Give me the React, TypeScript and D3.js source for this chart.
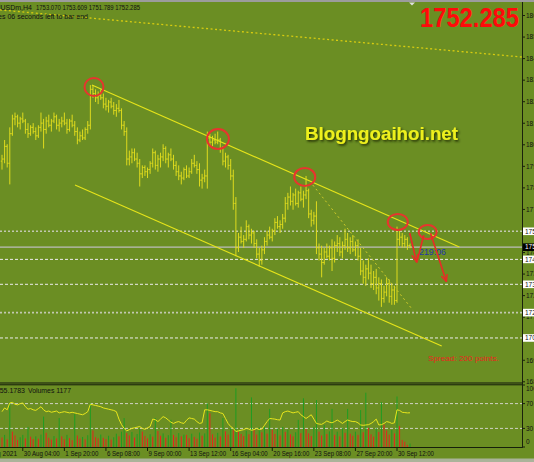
import React from 'react';
import * as d3 from 'd3';

const W = 534;
const H = 462;

// Right price axis ticks
const priceTicks = [1861.95, 1851.75, 1841.55, 1831.35, 1821.15, 1810.95, 1800.75, 1790.55, 1780.35, 1770.15, 1759.95, 1749.75, 1739.55, 1729.35, 1719.15, 1708.95, 1698.75, 1688.55];

// H4 bars: [open, high, low, close]
const bars: number[][] = [
  [1793,1796,1789,1794],[1794,1803,1792,1800],[1800,1801,1790,1792],[1792,1809,1782,1806],
  [1806,1815,1805,1813],[1813,1816,1810,1814],[1814,1815,1809,1811],[1811,1814,1808,1813],
  [1813,1816,1811,1812],[1812,1813,1806,1808],[1808,1811,1804,1806],[1806,1810,1805,1809],
  [1809,1811,1806,1807],[1807,1809,1803,1805],[1805,1810,1804,1809],[1809,1816,1807,1811],
  [1811,1813,1799,1808],[1808,1814,1806,1812],[1812,1815,1809,1810],[1810,1813,1807,1812],
  [1812,1816,1811,1814],[1814,1815,1808,1810],[1810,1813,1807,1811],[1811,1814,1809,1812],
  [1812,1816,1810,1811],[1811,1813,1806,1808],[1808,1813,1807,1812],[1812,1815,1809,1810],
  [1810,1812,1805,1807],[1807,1809,1801,1803],[1803,1807,1802,1805],[1805,1808,1803,1804],
  [1804,1809,1803,1808],[1808,1812,1806,1810],[1810,1829,1808,1827],[1827,1829,1823,1825],
  [1825,1827,1821,1823],[1823,1826,1820,1824],[1824,1827,1822,1823],[1823,1825,1818,1820],
  [1820,1823,1817,1819],[1819,1822,1816,1821],[1821,1823,1818,1819],[1819,1821,1815,1817],
  [1817,1820,1814,1818],[1818,1822,1816,1817],[1817,1818,1808,1810],[1810,1812,1805,1807],
  [1807,1809,1791,1794],[1794,1798,1791,1795],[1795,1799,1792,1797],[1797,1799,1793,1794],
  [1794,1797,1790,1792],[1792,1794,1781,1787],[1787,1791,1785,1790],[1790,1791,1786,1788],
  [1788,1790,1785,1789],[1789,1793,1787,1792],[1792,1799,1790,1797],[1797,1798,1789,1791],
  [1791,1796,1788,1794],[1794,1797,1790,1795],[1795,1801,1793,1799],[1799,1800,1792,1794],
  [1794,1797,1790,1796],[1796,1799,1793,1794],[1794,1796,1789,1791],[1791,1793,1786,1788],
  [1788,1791,1784,1786],[1786,1788,1782,1785],[1785,1790,1784,1789],[1789,1791,1785,1786],
  [1786,1790,1785,1788],[1788,1794,1787,1792],[1792,1796,1790,1791],[1791,1793,1787,1789],
  [1789,1792,1781,1784],[1784,1787,1780,1785],[1785,1789,1783,1786],[1786,1807,1780,1804],
  [1804,1806,1800,1802],[1802,1805,1800,1803],[1803,1806,1801,1802],[1802,1807,1801,1803],
  [1803,1804,1797,1799],[1799,1800,1791,1793],[1793,1797,1790,1795],[1795,1796,1789,1791],
  [1791,1794,1784,1786],[1786,1789,1770,1773],[1773,1776,1748,1752],[1752,1759,1750,1757],
  [1757,1762,1754,1755],[1755,1758,1752,1756],[1756,1765,1755,1762],[1762,1763,1756,1758],
  [1758,1761,1754,1759],[1759,1760,1752,1754],[1754,1756,1747,1749],[1749,1752,1743,1746],
  [1746,1753,1744,1751],[1751,1757,1749,1755],[1755,1760,1753,1758],[1758,1762,1756,1757],
  [1757,1761,1755,1760],[1760,1766,1758,1764],[1764,1767,1761,1762],[1762,1765,1759,1763],
  [1763,1768,1761,1766],[1766,1776,1764,1773],[1773,1778,1770,1776],[1776,1781,1772,1774],
  [1774,1778,1770,1777],[1777,1780,1772,1773],[1773,1779,1771,1778],[1778,1781,1774,1775],
  [1775,1779,1771,1777],[1777,1786,1775,1779],[1779,1780,1766,1768],[1768,1770,1762,1765],
  [1765,1769,1763,1767],[1767,1774,1749,1752],[1752,1754,1746,1749],[1749,1753,1738,1745],
  [1745,1752,1744,1750],[1750,1754,1747,1748],[1748,1753,1746,1752],[1752,1756,1741,1747],
  [1747,1755,1745,1753],[1753,1758,1750,1754],[1754,1757,1748,1750],[1750,1755,1747,1753],
  [1753,1761,1751,1756],[1756,1759,1750,1752],[1752,1757,1749,1755],[1755,1758,1750,1751],
  [1751,1755,1748,1753],[1753,1756,1746,1748],[1748,1752,1739,1741],[1741,1746,1735,1738],
  [1738,1744,1734,1742],[1742,1747,1737,1740],[1740,1744,1733,1735],[1735,1741,1732,1738],
  [1738,1742,1730,1733],[1733,1738,1727,1735],[1735,1737,1724,1728],[1728,1734,1726,1731],
  [1731,1738,1729,1735],[1735,1737,1726,1729],[1729,1735,1725,1732],[1732,1734,1725,1727],
  [1727,1762,1726,1756],[1756,1760,1753,1757],[1757,1759,1752,1754],[1754,1758,1752,1756],
  [1756,1757,1751,1753],[1753,1754,1751.8,1752.285]
];

// RSI(14)
const rsi = [
  57,63,60,71,72,69,68,70,71,65,61,62,60,59,62,65,60,57,58,56,
  57,58,55,56,57,56,55,56,55,54,53,52,54,57,69,68,67,66,65,63,
  62,61,60,59,57,45,36,30,26,28,30,31,32,33,30,28.5,31,33,45,44,
  41,45,49,47,43.5,40,38,40,41,39,38,43,47,46,45,41,38,39,60,60,
  59,58,57,57,55,54,46,38,33,30,25,26,27,28,30,29,27,28,30,28,
  29,35,41,46,45.5,45,44,43.5,55,57,58,56.5,55,56,57,52,49,46,49,52,
  45,38,37,36.5,39,42,40,39,41,43.5,41,38,41,43.5,42,41,41,39,35.5,35,
  35.5,36,38,41,45,35.5,36,38,41,40,38,39,60,59,56,55.5,55,55.18
];

// Volumes (ticks)
const volumes = [
  3200,4100,2600,15000,5200,3900,2400,3300,4100,2900,6800,3500,2700,3600,2800,4200,10300,4800,3100,2500,
  3700,2900,9800,3600,2600,4100,3000,2300,11200,3900,2800,3400,2600,4000,14800,5600,3300,2900,4200,3100,
  2700,3800,2500,3300,4500,3600,5200,9800,4700,3900,5100,3200,4400,6100,5200,3700,2900,4300,3500,9800,
  5400,3800,4600,3100,4000,9200,4100,3300,4700,3600,4200,4100,3000,4500,3400,2800,4900,3800,4600,14800,
  11400,4300,3200,4800,3600,9800,5300,4200,6500,5700,19900,5200,4400,3700,5500,4300,16800,5900,4200,6600,
  5000,6800,4500,12900,5800,4400,6200,3900,6800,5100,5900,4300,3600,5000,9200,4700,16500,6100,4600,3700,
  6800,15900,5200,3900,7500,4400,5300,12900,4100,5200,3600,6400,4800,12900,4500,3800,5200,4100,12500,5000,
  18400,6400,4300,3500,6400,5100,15200,7600,5600,4200,5800,4600,17100,7100,2400,1800,700,1177
];

// time axis
const timeTickIdx = [8, 24, 40, 56, 72, 88, 104, 120, 136, 152];
const timeLabels = ['30 Aug 04:00', '1 Sep 20:00', '6 Sep 08:00', '9 Sep 00:00', '13 Sep 12:00', '16 Sep 04:00', '20 Sep 16:00', '23 Sep 08:00', '27 Sep 20:00', '30 Sep 12:00'];

// horizontal levels
const levelPrices = [1759.8, 1746.5, 1734.7, 1721.3, 1709.3];
const levelKinds = ['dot', 'dash', 'dash', 'dot', 'dash'];
const bid = 1752.285;

// trend lines [barIndex, price]
const upperChannel = [[34.6, 1829.05], [176, 1752.4]];
const lowerChannel = [[28.1, 1781.7], [169.2, 1705.5]];
const dashedTrend = [[119.6, 1781.7], [158.1, 1722.5]];
const topDotted = [[-0.8, 1864.6], [200, 1842.3]];

// red circles [barIndex, price]
const circles = [[35.4, 1828.1], [83.1, 1803.5], [116.5, 1785.5], [152.3, 1764.2], [163.8, 1759.5]];
const circleR = [[9.5, 9], [11, 10], [10.5, 9], [10, 8], [9, 7]];

// red arrows [from, to]
const arrows = [
  [[156.9, 1759.0], [159.5, 1745.4], 1],
  [[159.6, 1745.0], [162.3, 1758.0], 0],
  [[164.9, 1758.9], [171.0, 1736.0], 1],
];

export default function App() {
  const x = d3.scaleLinear().domain([0, 157]).range([2, 410]);
  const y = d3.scaleLinear().domain([1688.55, 1861.95]).range([381.8, 15.5]);
  const yr = d3.scaleLinear().domain([0, 100]).range([447, 385]);
  const yv = d3.scaleLinear().domain([0, 21000]).range([447, 385]);
  const rsiPath = d3.line<number>().x((_, i) => x(i)).y(d => yr(d))(rsi) || '';
  const seg = (pts: number[][]) => ({ x1: x(pts[0][0]), y1: y(pts[0][1]), x2: x(pts[1][0]), y2: y(pts[1][1]) });

  const barColor = '#e4de1e';
  const axisX = 522;
  const txt = { fontFamily: 'Liberation Sans, Arial, sans-serif' };

  return (
    <svg width={W} height={H} style={{ position: 'fixed', left: 0, top: 0, display: 'block' }} {...txt}>
      <defs>
        <clipPath id="mainClip"><rect x={0} y={2} width={axisX} height={380} /></clipPath>
        <clipPath id="subClip"><rect x={0} y={385} width={axisX} height={62} /></clipPath>
        <marker id="ah" viewBox="0 0 10 10" refX="9" refY="5" markerWidth="8" markerHeight="8" orient="auto" markerUnits="userSpaceOnUse">
          <path d="M0,1 L9,5 L0,9" fill="none" stroke="#ea2a26" strokeWidth="1.8" />
        </marker>
        <filter id="sh" x="-10%" y="-30%" width="130%" height="170%">
          <feDropShadow dx="1.3" dy="1.6" stdDeviation="0.9" floodColor="#1c2804" floodOpacity="0.95" />
        </filter>
      </defs>

      <rect x={0} y={0} width={W} height={H} fill="#6b8e23" />
      <rect x={0} y={0} width={W} height={2} fill="#9c9c9c" />

      {/* main pane */}
      <g clipPath="url(#mainClip)">
        <line {...seg(topDotted)} stroke="#d8cc10" strokeWidth={1.3} strokeDasharray="2,2.5" />
        {levelPrices.map((p, k) => (
          levelKinds[k] === 'dot'
            ? <line key={'l' + k} x1={0} x2={axisX} y1={y(p)} y2={y(p)} stroke="#c2c8b0" strokeWidth={1.6} strokeDasharray="2,2" />
            : <line key={'l' + k} x1={0} x2={axisX} y1={y(p)} y2={y(p)} stroke="#ececec" strokeWidth={1} strokeDasharray="3,2" />
        ))}
        <line x1={0} x2={axisX} y1={y(bid)} y2={y(bid)} stroke="#bdbdbd" strokeWidth={1.2} />

        {bars.map((b, i) => (
          <g key={'b' + i} stroke={barColor} strokeWidth={1} opacity={0.95}>
            <line x1={x(i)} x2={x(i)} y1={y(b[1])} y2={y(b[2])} />
            <line x1={x(i) - 1.2} x2={x(i)} y1={y(b[0])} y2={y(b[0])} />
            <line x1={x(i)} x2={x(i) + 1.2} y1={y(b[3])} y2={y(b[3])} />
          </g>
        ))}

        <line {...seg(upperChannel)} stroke="#e6e41a" strokeWidth={1.1} />
        <line {...seg(lowerChannel)} stroke="#e6e41a" strokeWidth={1.1} />
        <line {...seg(dashedTrend)} stroke="#d2cc2a" strokeWidth={1} strokeDasharray="2,3" />

        {circles.map((c, k) => (
          <ellipse key={'c' + k} cx={x(c[0])} cy={y(c[1])} rx={circleR[k][0]} ry={circleR[k][1]} fill="none" stroke="#e8342e" strokeWidth={2} />
        ))}

        <text x={419} y={254.5} fontSize={8.5} fill="#2238a8" textLength={27} lengthAdjust="spacingAndGlyphs">219:06</text>

        {arrows.map((a: any, k) => (
          <line key={'a' + k} x1={x(a[0][0])} y1={y(a[0][1])} x2={x(a[1][0])} y2={y(a[1][1])} stroke="#ea2a26" strokeWidth={1.6} markerEnd={a[2] ? 'url(#ah)' : undefined} />
        ))}

        <text x={305} y={140} fontSize={19} fontWeight="bold" fill="#eef01e" filter="url(#sh)" textLength={153} lengthAdjust="spacingAndGlyphs">Blogngoaihoi.net</text>
        <text x={428} y={361} fontSize={7.5} fill="#e8281e" textLength={71} lengthAdjust="spacingAndGlyphs">Spread: 200 points.</text>
        <text x={420} y={27} fontSize={27} fontWeight="bold" fill="#ff0a0a" textLength={99} lengthAdjust="spacingAndGlyphs">1752.285</text>

        <text x={32} y={9.5} fontSize={7} fill="#111" textAnchor="end">XAUUSDm,H4</text>
        <text x={36} y={9.5} fontSize={7} fill="#111" textLength={104} lengthAdjust="spacingAndGlyphs">1753.070 1753.609 1751.789 1752.285</text>
        <text x={88} y={18.5} fontSize={7} fill="#111" textAnchor="end">2 hours 19 minutes 06 seconds left to bar end</text>
        <path d={`M409,2.5 L415,2.5 L412,5.5 Z`} fill="#e0e0e0" />
      </g>

      {/* pane separator */}
      <rect x={0} y={382} width={axisX} height={2.2} fill="#3e5217" />
      <line x1={0} x2={axisX} y1={384.8} y2={384.8} stroke="#16200a" strokeWidth={1} />

      {/* sub pane */}
      <g clipPath="url(#subClip)">
        <line x1={0} x2={axisX} y1={yr(70)} y2={yr(70)} stroke="#cfd2c4" strokeWidth={1} strokeDasharray="3,2" />
        <line x1={0} x2={axisX} y1={yr(30)} y2={yr(30)} stroke="#cfd2c4" strokeWidth={1} strokeDasharray="3,2" />
        {volumes.map((v, i) => (
          <line key={'v' + i} x1={x(i)} x2={x(i)} y1={yv(0)} y2={yv(v)} stroke={i > 0 && v > volumes[i - 1] ? '#1f9c22' : '#e4261c'} strokeWidth={1} />
        ))}
        <path d={rsiPath} fill="none" stroke="#e8e61c" strokeWidth={1} />
        <text x={25} y={392.5} fontSize={7} fill="#111" textAnchor="end">RSI(14) 55.1783</text>
        <text x={28} y={392.5} fontSize={7} fill="#111" textLength={43} lengthAdjust="spacingAndGlyphs">Volumes 1177</text>
      </g>
      <line x1={0} x2={axisX} y1={447.5} y2={447.5} stroke="#16200a" strokeWidth={1} />

      {/* right axis */}
      <line x1={axisX + 0.5} x2={axisX + 0.5} y1={2} y2={448} stroke="#1a220c" strokeWidth={1} />
      {priceTicks.map((p, k) => (
        <g key={'t' + k}>
          <line x1={axisX} x2={axisX + 3} y1={y(p)} y2={y(p)} stroke="#1a220c" />
          <text x={axisX + 4} y={y(p) + 2.3} fontSize={6.5} fill="#111">{p.toFixed(2)}</text>
        </g>
      ))}
      {levelPrices.map((p, k) => (
        <g key={'lb' + k}>
          <rect x={axisX + 1} y={y(p) - 3.8} width={20} height={7.6} fill="#ffffff" />
          <text x={axisX + 3} y={y(p) + 2.3} fontSize={6.5} fill="#111">{p.toFixed(2)}</text>
        </g>
      ))}
      <rect x={axisX + 1} y={y(bid) - 3.8} width={20} height={7.6} fill="#000" />
      <text x={axisX + 3} y={y(bid) + 2.3} fontSize={6.5} fill="#fff">{bid.toFixed(2)}</text>

      {[100, 70, 30, 0].map((v, k) => (
        <g key={'r' + k}>
          <line x1={axisX} x2={axisX + 3} y1={yr(v)} y2={yr(v)} stroke="#1a220c" />
          <text x={axisX + 4} y={v === 100 ? 390.5 : v === 0 ? 444 : yr(v) + 2.3} fontSize={6.5} fill="#111">{v}</text>
        </g>
      ))}

      {/* time axis */}
      <text x={17} y={455.5} fontSize={6.5} fill="#111" textAnchor="end">27 Aug 2021</text>
      {timeTickIdx.map((ix, k) => (
        <g key={'x' + k}>
          <line x1={x(ix)} x2={x(ix)} y1={448} y2={451} stroke="#16200a" />
          <text x={x(ix) + 1} y={455.5} fontSize={6.5} fill="#111" textLength={timeLabels[k].length > 11 ? 36 : 33} lengthAdjust="spacingAndGlyphs">{timeLabels[k]}</text>
        </g>
      ))}
      <rect x={0} y={458.5} width={W} height={3.5} fill="#aab39a" />
    </svg>
  );
}
